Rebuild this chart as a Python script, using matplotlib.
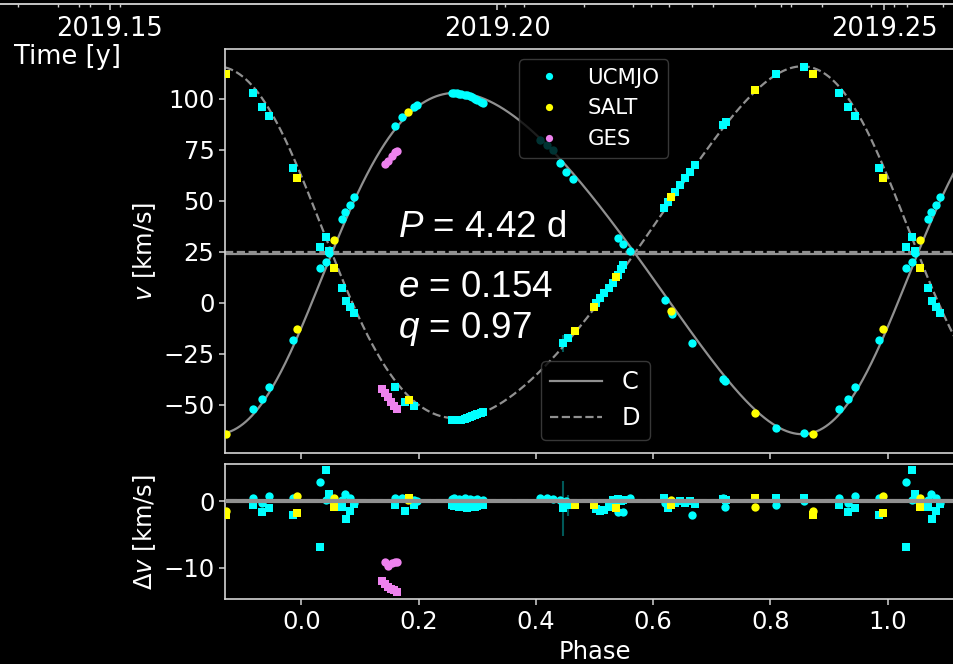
import numpy as np
import matplotlib
matplotlib.use("Agg")
import matplotlib.pyplot as plt
from matplotlib.lines import Line2D

# ---------------------------------------------------------------- orbit
P_DAYS = 4.42
ECC = 0.154
Q = 0.97
K_C = 83.7            # km/s
OMEGA_C_DEG = 248.0   # argument of periastron of component C
T_PERI = 0.0          # phase of periastron
GAMMA_C = 24.0
GAMMA_D = 24.6

# ---------------------------------------------------------------- observations (phase in [0, 1))
ucmjo_c_phase = [0.032, 0.041, 0.047, 0.069, 0.075, 0.082, 0.089, 0.159, 0.171, 0.192, 0.197,
                 0.257, 0.261, 0.266, 0.268, 0.272, 0.279, 0.283, 0.288, 0.291, 0.296, 0.300, 0.306, 0.309,
                 0.407, 0.419, 0.429, 0.441, 0.452, 0.463, 0.540, 0.548, 0.560, 0.620, 0.633, 0.667,
                 0.719, 0.723, 0.809, 0.857, 0.918, 0.933, 0.944, 0.986]
ucmjo_c_v = [16.8, 19.8, 24.3, 40.8, 44.6, 48.0, 51.8, 86.6, 90.8, 95.7, 96.9,
             102.6, 102.8, 102.7, 102.5, 102.4, 102.0, 101.6, 101.1, 100.7, 100.0, 99.4, 98.6, 98.1,
             79.7, 77.2, 74.8, 68.3, 64.2, 60.4, 31.8, 28.8, 25.4, 1.3, -5.6, -20.0,
             -37.5, -38.3, -61.3, -63.8, -52.2, -47.3, -41.5, -18.5]
ucmjo_c_res = [2.9, 0.2, 0.4, 0.3, 1.2, 0.5, -0.3, 0.5, 0.6, 0.2, 0.0,
               0.4, 0.5, 0.3, 0.4, 0.2, 0.5, 0.3, 0.4, 0.2, 0.3, 0.4, 0.1, 0.3,
               0.5, 0.6, 0.4, 0.3, 0.0, -0.2, -1.6, -1.6, 0.5, -0.2, -0.3, -2.0,
               0.5, -0.8, -0.6, 0.0, 0.5, -0.3, 0.8, 0.5]

ucmjo_d_phase = [0.032, 0.041, 0.047, 0.069, 0.076, 0.082, 0.089, 0.159, 0.176, 0.192,
                 0.257, 0.261, 0.266, 0.268, 0.272, 0.279, 0.283, 0.288, 0.291, 0.296, 0.300, 0.306, 0.309,
                 0.446, 0.455, 0.503, 0.510, 0.517, 0.524, 0.531, 0.540, 0.545, 0.549,
                 0.619, 0.626, 0.637, 0.646, 0.654, 0.663, 0.671,
                 0.720, 0.724, 0.809, 0.857, 0.918, 0.933, 0.944, 0.986]
ucmjo_d_v = [27.1, 32.3, 25.1, 7.0, 0.9, -2.0, -5.3, -41.2, -48.6, -50.5,
             -57.6, -57.7, -57.6, -57.5, -57.4, -57.0, -56.7, -56.2, -55.8, -55.2, -54.7, -53.9, -53.4,
             -20.0, -17.5, -0.3, 2.1, 4.6, 7.0, 9.5, 13.5, 16.3, 18.4,
             46.5, 49.5, 54.4, 57.6, 60.9, 64.2, 67.5,
             87.0, 88.7, 112.0, 115.6, 102.6, 95.7, 91.5, 66.1]
ucmjo_d_res = [-6.9, 4.7, 1.2, -0.8, -2.6, -1.5, -0.4, -0.6, -1.4, -0.5,
               -0.5, -0.7, -0.6, -0.9, -0.8, -0.7, -1.0, -0.8, -0.6, -0.9, -0.7, -0.5, -0.6,
               -1.0, -0.6, -1.2, -1.4, -1.3, -0.9, 0.2, 0.4, 0.0, 0.3,
               0.6, -1.0, -0.2, 0.1, -0.3, 0.0, -0.4,
               0.4, 0.2, 0.6, 0.6, -0.6, -1.6, -1.0, -2.0]
ucmjo_d_err = [0.0] * 23 + [4.15, 1.65] + [0.0] * 23

salt_c_phase = [0.055, 0.182, 0.631, 0.774, 0.872, 0.993]
salt_c_v = [30.5, 93.6, -4.0, -54.3, -64.6, -12.9]
salt_c_res = [0.6, 0.3, 0.2, -0.9, -1.5, 0.9]
salt_d_phase = [0.055, 0.183, 0.466, 0.499, 0.536, 0.631, 0.774, 0.872, 0.993]
salt_d_v = [16.8, -47.7, -13.8, -2.0, 12.4, 51.9, 104.2, 112.0, 61.2]
salt_d_res = [-0.9, 0.6, -0.6, -0.6, -1.0, -0.5, 0.5, -2.1, -1.7]

ges_c_phase = [0.143, 0.147, 0.155, 0.160, 0.163]
ges_c_v = [68.0, 69.5, 72.0, 73.6, 74.5]
ges_c_res = [-9.1, -9.8, -9.3, -9.2, -9.1]
ges_d_phase = [0.138, 0.142, 0.148, 0.152, 0.158, 0.163]
ges_d_v = [-42.5, -44.5, -46.5, -48.5, -50.5, -52.0]
ges_d_res = [-12.0, -12.4, -12.9, -13.2, -13.4, -13.6]

# epochs marked on the time line (decimal years)
obs_epochs = [2019.1381, 2019.1433, 2019.1460, 2019.1474, 2019.1513, 2019.2010, 2019.2035,
              2019.2112, 2019.2175, 2019.2199, 2019.2222, 2019.2252, 2019.2279, 2019.2333,
              2019.2366, 2019.2380, 2019.2419, 2019.2483, 2019.2512, 2019.2529, 2019.2576]
time_ticks = [2019.15, 2019.20, 2019.25]

instruments = [
    ("UCMJO", "cyan", ucmjo_c_phase, ucmjo_c_v, ucmjo_c_res, ucmjo_d_phase, ucmjo_d_v, ucmjo_d_res),
    ("SALT", "yellow", salt_c_phase, salt_c_v, salt_c_res, salt_d_phase, salt_d_v, salt_d_res),
    ("GES", "violet", ges_c_phase, ges_c_v, ges_c_res, ges_d_phase, ges_d_v, ges_d_res),
]

# ---------------------------------------------------------------- helpers
def radial_velocity(phase, gamma, k, omega):
    mean_anom = 2 * np.pi * (np.mod(phase - T_PERI, 1.0))
    ecc_anom = mean_anom.copy()
    for _ in range(60):
        ecc_anom -= (ecc_anom - ECC * np.sin(ecc_anom) - mean_anom) / (1 - ECC * np.cos(ecc_anom))
    nu = 2 * np.arctan2(np.sqrt(1 + ECC) * np.sin(ecc_anom / 2),
                        np.sqrt(1 - ECC) * np.cos(ecc_anom / 2))
    return gamma + k * (np.cos(nu + omega) + ECC * np.cos(omega))


def wrapped(phase, values):
    ph = np.asarray(phase, float)
    va = np.asarray(values, float)
    return np.concatenate([ph - 1, ph, ph + 1]), np.tile(va, 3)


# ---------------------------------------------------------------- figure
W, H = 954, 664
plt.style.use("dark_background")
plt.rcParams["mathtext.rm"] = "Liberation Sans"
plt.rcParams["mathtext.it"] = "Liberation Sans:italic"

fig = plt.figure(figsize=(W / 100, H / 100), dpi=100)
fig.patch.set_facecolor("black")

SPINE = "#d4d4d4"
CURVE = "#909090"
FS = 17.5
X_LIM = (-0.13, 1.13)

ax = fig.add_axes([225.3 / W, 1 - 452.7 / H, 738.4 / W, 403.4 / H])
axr = fig.add_axes([225.3 / W, 1 - 599.0 / H, 738.4 / W, 134.7 / H], sharex=ax)

grid = np.linspace(X_LIM[0], X_LIM[1], 2000)
omega_c = np.deg2rad(OMEGA_C_DEG)
omega_d = omega_c + np.pi
k_d = K_C / Q
line_c, = ax.plot(grid, radial_velocity(grid, GAMMA_C, K_C, omega_c), color=CURVE, lw=1.6,
                  ls="-", label="C", zorder=2)
line_d, = ax.plot(grid, radial_velocity(grid, GAMMA_D, k_d, omega_d), color=CURVE, lw=1.6,
                  ls="--", label="D", zorder=2)
ax.axhline(GAMMA_C, color=CURVE, lw=1.6, ls="-", zorder=2)
ax.axhline(GAMMA_D, color=CURVE, lw=1.6, ls="--", zorder=2)

axr.axhline(0.0, color=CURVE, lw=3.0, ls="-", zorder=5)
axr.axhline(0.3, color=CURVE, lw=2.2, ls="--", zorder=5)

MS_C, MS_D = 6.0, 5.6
inst_handles = []
for name, col, cph, cv, cres, dph, dv, dres in instruments:
    x, y = wrapped(cph, cv)
    ax.plot(x, y, "o", color=col, ms=MS_C, mew=0, zorder=3)
    x, y = wrapped(dph, dv)
    ax.plot(x, y, "s", color=col, ms=MS_D, mew=0, zorder=3)
    x, y = wrapped(cph, cres)
    axr.plot(x, y, "o", color=col, ms=MS_C, mew=0, zorder=3)
    x, y = wrapped(dph, dres)
    axr.plot(x, y, "s", color=col, ms=MS_D, mew=0, zorder=3)
    inst_handles.append(Line2D([], [], ls="none", marker="o", color=col, ms=5.2, mew=0, label=name))

# error bars of the UCMJO measurements of D
ex, ey = wrapped(ucmjo_d_phase, ucmjo_d_v)
_, er = wrapped(ucmjo_d_phase, ucmjo_d_err)
_, rr = wrapped(ucmjo_d_phase, ucmjo_d_res)
sel = er > 0
ax.errorbar(ex[sel], ey[sel], yerr=er[sel], fmt="none", ecolor="cyan", alpha=0.35, lw=1.5, zorder=2.5)
axr.errorbar(ex[sel], rr[sel], yerr=er[sel], fmt="none", ecolor="cyan", alpha=0.35, lw=1.5, zorder=2.5)

ax.set_xlim(*X_LIM)
ax.set_ylim(-73.6, 124.2)
axr.set_ylim(-14.73, 5.62)
ax.set_yticks([-50, -25, 0, 25, 50, 75, 100])
axr.set_yticks([-10, 0])
axr.set_xticks([0.0, 0.2, 0.4, 0.6, 0.8, 1.0])

for a in (ax, axr):
    a.set_facecolor("black")
    for sp in a.spines.values():
        sp.set_color(SPINE)
        sp.set_linewidth(1.2)
    a.tick_params(labelsize=FS, length=4.3, width=1.1, color=SPINE, labelcolor="white")
ax.tick_params(axis="x", labelbottom=False)

ax.set_ylabel(r"$v$ [km/s]", fontsize=FS)
axr.set_ylabel(r"$\Delta v$ [km/s]", fontsize=FS)
axr.set_xlabel("Phase", fontsize=FS, labelpad=4.5)
fig.align_ylabels([ax, axr])

# orbital parameters
txt_kw = dict(transform=ax.transAxes, fontsize=26.5, family="Liberation Sans",
              math_fontfamily="custom", color="white", ha="left", va="baseline", zorder=6)
ax.text(0.2339, 0.5354, rf"$P$ = {P_DAYS:.2f} d", **txt_kw)
ax.text(0.2339, 0.3860, rf"$e$ = {ECC:.3f}", **txt_kw)
ax.text(0.2339, 0.2843, rf"$q$ = {Q:.2f}", **txt_kw)

# legends
leg1 = ax.legend(handles=inst_handles, loc="upper left", bbox_to_anchor=(519.3 / W, 1 - 59.3 / H),
                 bbox_transform=fig.transFigure, borderaxespad=0, fontsize=15.3,
                 facecolor="black", edgecolor="#454545", framealpha=0.8, handlelength=2.0)
for t in leg1.get_texts():
    t.set_color("white")
ax.add_artist(leg1)
leg2 = ax.legend(handles=[line_c, line_d], loc="upper left",
                 bbox_to_anchor=(540.7 / W, 1 - 360.7 / H), bbox_transform=fig.transFigure,
                 borderaxespad=0, fontsize=17.3, facecolor="black", edgecolor="#454545",
                 framealpha=0.8, handlelength=2.17)
for t in leg2.get_texts():
    t.set_color("white")
leg1.set_zorder(7)
leg2.set_zorder(7)

# time line on top
axt = fig.add_axes([0.0, 1 - 4.0 / H, 1.0, 0.0001])
axt.patch.set_alpha(0)
for side in ("top", "left", "right"):
    axt.spines[side].set_visible(False)
axt.spines["bottom"].set_color(SPINE)
axt.spines["bottom"].set_linewidth(1.3)
axt.set_xlim(2019.1358, 2019.2590)
axt.set_yticks([])
axt.set_xticks(time_ticks)
axt.set_xticklabels([f"{t:.2f}" for t in time_ticks])
axt.set_xticks(obs_epochs, minor=True)
axt.tick_params(axis="x", which="major", direction="out", length=4.0, width=1.1, color=SPINE,
                labelsize=18.5, labelcolor="white", pad=5)
axt.tick_params(axis="x", which="minor", direction="out", length=2.2, width=1.0, color=SPINE)
fig.text(14 / W, 1 - 64.5 / H, "Time [y]", fontsize=18.5, color="white", ha="left", va="baseline")

fig.savefig("out.png", dpi=100, facecolor="black")
